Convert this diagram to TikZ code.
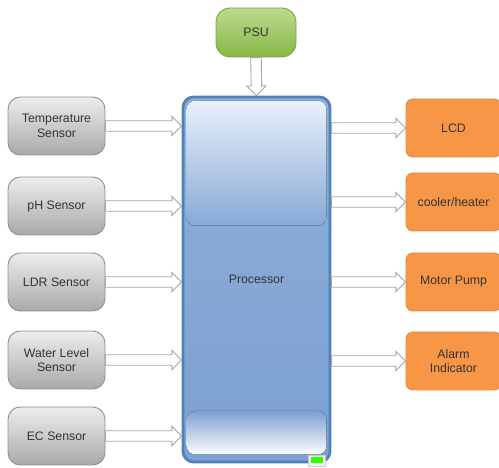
\documentclass[tikz,border=0pt]{standalone}
\usepackage{fontspec}
\setmainfont{Liberation Sans}
\usetikzlibrary{calc}
\definecolor{cgreyt}{HTML}{EDEDED}
\definecolor{cgreyb}{HTML}{A9A9A9}
\definecolor{cgreyd}{HTML}{8E8E8E}
\definecolor{cgreent}{HTML}{BCDB8E}
\definecolor{cgreenb}{HTML}{88B647}
\definecolor{cgreend}{HTML}{7CA53F}
\definecolor{corange}{HTML}{F79646}
\definecolor{corangd}{HTML}{E8893D}
\definecolor{cbluem}{HTML}{8EAFDA}
\definecolor{cblueb}{HTML}{7CA0D0}
\definecolor{cglosst}{HTML}{E9F0F9}
\definecolor{cblued}{HTML}{4F81BD}
\definecolor{ctext}{HTML}{333333}
\definecolor{carrow}{HTML}{A6A6A6}
\tikzset{
  every picture/.style={font=\fontsize{7}{8.4}\selectfont, text=ctext},
  sensor/.style={draw=cgreyd, top color=cgreyt, bottom color=cgreyb, rounded corners=7pt, align=center,
    minimum width=1.94cm, minimum height=1.16cm, line width=0.5pt},
  output/.style={draw=corangd, fill=corange, rounded corners=4pt, align=center,
    minimum width=1.9cm, minimum height=1.16cm, line width=0.5pt},
  supply/.style={draw=cgreend, top color=cgreent, bottom color=cgreenb, rounded corners=8pt, align=center,
    minimum width=1.6cm, minimum height=0.98cm, line width=0.5pt},
  cpu/.style={draw=cblued, top color=cbluem, bottom color=cblueb, rounded corners=6pt,
    minimum width=2.94cm, minimum height=7.3cm, line width=1.6pt},
  fat/.style={draw=carrow, fill=white, line width=0.5pt, line join=miter, to path={
    ($(\tikztotarget)!5.5pt!(\tikztostart)$) coordinate (fhead)
    ($(\tikztostart)!3pt!-90:(\tikztotarget)$) -- ($(fhead)!3pt!90:(\tikztostart)$)
    -- ($(fhead)!5.5pt!90:(\tikztostart)$) -- (\tikztotarget)
    -- ($(fhead)!5.5pt!-90:(\tikztostart)$) -- ($(fhead)!3pt!-90:(\tikztostart)$)
    -- ($(\tikztostart)!3pt!90:(\tikztotarget)$) -- cycle}},
}

\begin{document}
\begin{tikzpicture}
  \useasboundingbox (0,0) rectangle (9.98,-9.36);
  \begin{scope}
  \clip (0,0) rectangle (9.98,-9.36);
  % main block
  \node[cpu] (proc) at (5.13,-5.59) {};
  \fill[rounded corners=5pt, top color=cglosst, bottom color=cbluem!62!cblueb]
    ($(proc.north west)+(0.1,-0.1)$) rectangle ($(proc.north east)+(-0.1,-2.6)$);
  \fill[rounded corners=5pt, top color=cblueb, bottom color=white!90!cglosst]
    ($(proc.south west)+(0.1,0.18)$) rectangle ($(proc.south east)+(-0.1,1.05)$);
  \node at (proc) {Processor};
  \node[draw=gray!40, fill=gray!10, minimum width=0.34cm, minimum height=0.22cm, inner sep=0pt] (led) at (6.33,-9.21) {};
  \node[fill=green!75!lime, minimum width=0.24cm, minimum height=0.12cm, inner sep=0pt] at (led) {};
  % power
  \node[supply] (psu) at (5.12,-0.65) {PSU};
  % inputs
  \node[sensor] (temp) at (1.13,-2.52) {Temperature\\Sensor};
  \node[sensor] (ph) at (1.13,-4.12) {pH Sensor};
  \node[sensor] (ldr) at (1.13,-5.64) {LDR Sensor};
  \node[sensor] (wl) at (1.13,-7.2) {Water Level\\Sensor};
  \node[sensor] (ec) at (1.13,-8.72) {EC Sensor};
  % outputs
  \node[output] (lcd) at (9.07,-2.56) {LCD};
  \node[output] (cool) at (9.07,-4.04) {cooler/heater};
  \node[output] (pump) at (9.07,-5.64) {Motor Pump};
  \node[output] (alarm) at (9.07,-7.22) {Alarm\\Indicator};
  % arrows
  \draw[fat] (psu.south) to (proc.north);
  \foreach \s in {temp, ph, ldr, wl, ec}
    \draw[fat] (\s.east) to (\s.east -| proc.west);
  \foreach \o in {lcd, cool, pump, alarm}
    \draw[fat] (\o.west -| proc.east) to (\o.west);
  \end{scope}
\end{tikzpicture}
\end{document}
